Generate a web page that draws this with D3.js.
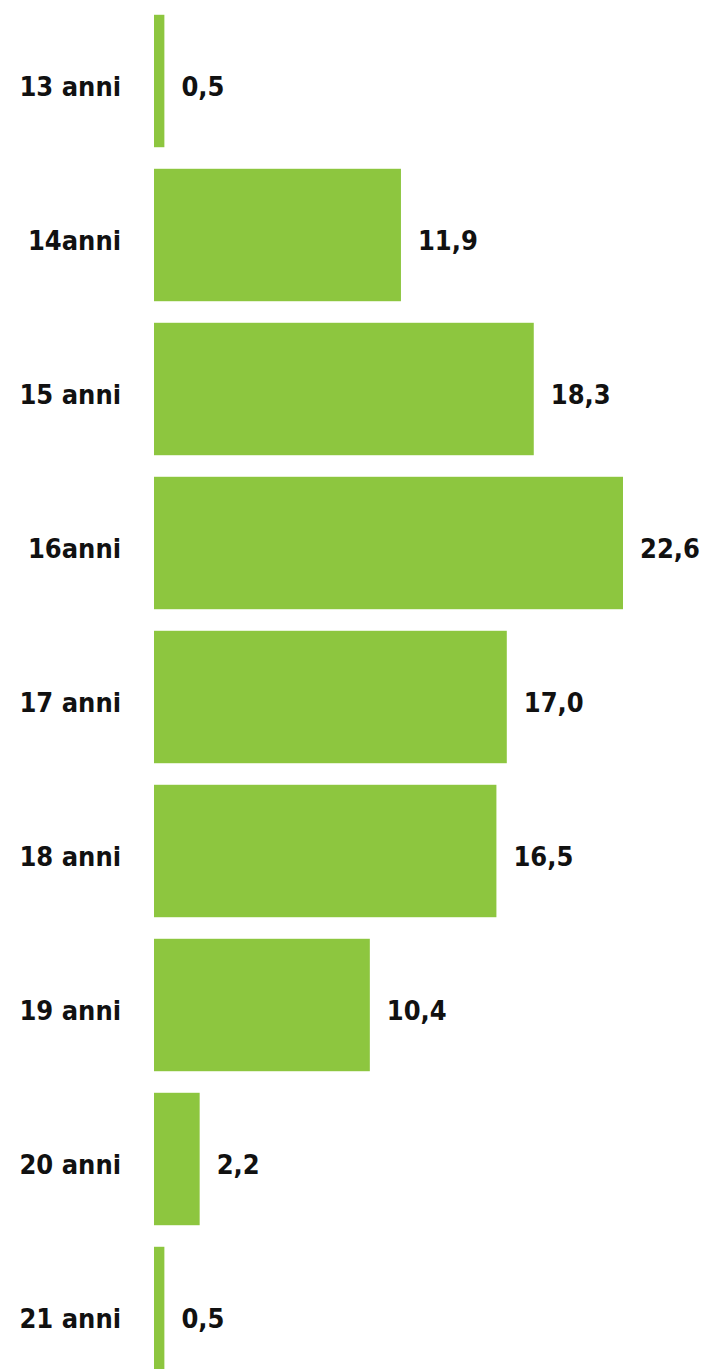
<!DOCTYPE html>
<html lang="en">
<head>
    <meta charset="UTF-8">
    <title>Età</title>
    <script src="https://d3js.org/d3.v7.min.js"></script>
    <style>
        body { margin: 0; background: #fff; }
        .label { font-family: "DejaVu Sans Condensed", "DejaVu Sans"; font-weight: bold; font-size: 27px; fill: #111; }
    </style>
</head>
<body>
    <svg id="chart" width="702" height="1369"></svg>
    <script>
        const categories = ["13 anni", "14anni", "15 anni", "16anni", "17 anni", "18 anni", "19 anni", "20 anni", "21 anni"];
        const values = [0.5, 11.9, 18.3, 22.6, 17.0, 16.5, 10.4, 2.2, 0.5];
        const valueLabels = ["0,5", "11,9", "18,3", "22,6", "17,0", "16,5", "10,4", "2,2", "0,5"];

        const svg = d3.select("#chart");
        const x0 = 154;

        const x = d3.scaleLinear().domain([0, 22.6]).range([x0, 623]);
        const y = d3.scaleBand().domain(categories).range([4, 4 + 9 * 154])
            .paddingInner(0.14).paddingOuter(0.07);

        const data = categories.map((c, i) => ({ cat: c, v: values[i], lbl: valueLabels[i] }));

        svg.selectAll("rect.bar").data(data).join("rect")
            .attr("class", "bar")
            .attr("x", x0)
            .attr("y", d => y(d.cat))
            .attr("width", d => x(d.v) - x0)
            .attr("height", y.bandwidth())
            .attr("fill", "#8dc63f");

        svg.selectAll("text.cat").data(data).join("text")
            .attr("class", "label cat")
            .attr("x", 121)
            .attr("y", d => y(d.cat) + y.bandwidth() / 2)
            .attr("dy", "0.55em")
            .attr("text-anchor", "end")
            .text(d => d.cat);

        svg.selectAll("text.val").data(data).join("text")
            .attr("class", "label val")
            .attr("x", d => x(d.v) + 17)
            .attr("y", d => y(d.cat) + y.bandwidth() / 2)
            .attr("dy", "0.55em")
            .text(d => d.lbl);
    </script>
</body>
</html>
